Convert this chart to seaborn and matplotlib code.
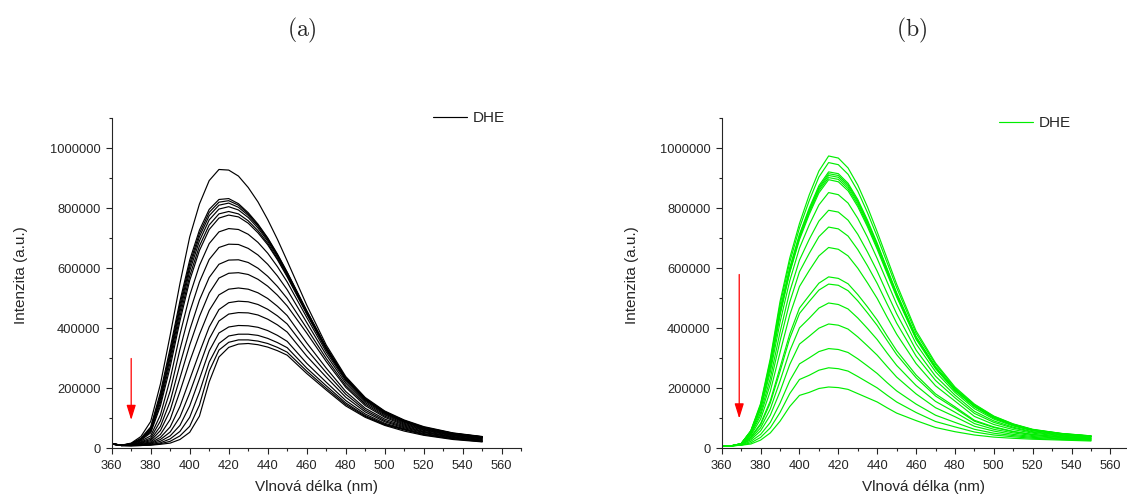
import matplotlib
matplotlib.use("Agg")
import pandas as pd
import matplotlib.pyplot as plt
import seaborn as sns
from matplotlib.lines import Line2D
from matplotlib.ticker import MultipleLocator, FuncFormatter

# ------------------------------------------------------------
# data (intensity in thousands of a.u.)
# ------------------------------------------------------------
wavelength = [360, 365, 370, 375, 380, 385, 390, 395, 400, 405, 410, 415, 420,
              425, 430, 435, 440, 445, 450, 460, 470, 480, 490, 500, 510, 520,
              535, 550]

# panel (a): black spectra, top to bottom
spectra_a = [
    [16, 11, 18, 40, 90, 215, 378, 550, 705, 815, 893, 930, 928, 908, 870, 822, 763, 697, 625, 478, 345, 240, 170, 125, 95, 73, 52, 40],
    [16, 11, 16, 34, 72, 187, 335, 492, 628, 728, 797, 830, 833, 816, 786, 748, 702, 648, 588, 460, 338, 236, 167, 123, 93, 71, 51, 39],
    [16, 11, 16, 33, 68, 178, 323, 480, 616, 717, 787, 821, 826, 811, 782, 745, 700, 646, 586, 458, 336, 235, 166, 122, 92, 70, 50, 39],
    [16, 11, 15, 32, 64, 170, 312, 468, 605, 706, 776, 811, 818, 804, 777, 741, 696, 643, 584, 456, 335, 234, 165, 121, 92, 70, 50, 38],
    [16, 11, 15, 30, 60, 162, 302, 455, 592, 692, 762, 798, 806, 795, 770, 735, 691, 639, 580, 454, 333, 233, 164, 120, 91, 69, 49, 38],
    [16, 11, 15, 29, 56, 152, 288, 440, 575, 675, 745, 782, 790, 782, 759, 726, 684, 633, 576, 451, 331, 231, 163, 119, 90, 69, 49, 38],
    [16, 11, 14, 28, 52, 142, 272, 425, 560, 660, 730, 768, 778, 772, 751, 719, 679, 629, 572, 448, 329, 230, 162, 118, 89, 68, 48, 37],
    [16, 11, 14, 25, 42, 112, 232, 380, 510, 610, 683, 722, 733, 730, 714, 687, 651, 606, 555, 437, 322, 225, 158, 115, 87, 66, 47, 36],
    [16, 11, 13, 22, 35, 92, 192, 330, 455, 555, 630, 670, 681, 680, 667, 645, 614, 575, 529, 420, 312, 218, 153, 112, 84, 64, 45, 35],
    [16, 10, 12, 20, 30, 74, 157, 280, 395, 495, 570, 614, 628, 629, 620, 601, 574, 540, 500, 401, 300, 210, 148, 108, 81, 62, 44, 33],
    [15, 10, 12, 18, 26, 60, 127, 235, 345, 440, 518, 568, 584, 586, 580, 564, 541, 511, 475, 385, 290, 204, 143, 104, 78, 60, 42, 32],
    [15, 10, 11, 16, 22, 47, 97, 190, 290, 380, 460, 512, 531, 535, 531, 519, 500, 474, 443, 352, 268, 190, 134, 98, 75, 57, 40, 30],
    [15, 10, 11, 14, 19, 37, 72, 140, 230, 320, 405, 463, 486, 491, 489, 480, 464, 442, 415, 330, 253, 181, 128, 93, 72, 55, 38, 28],
    [15, 10, 10, 13, 17, 30, 55, 105, 185, 275, 365, 425, 448, 453, 452, 445, 431, 412, 388, 308, 238, 171, 122, 89, 69, 53, 37, 27],
    [15, 10, 10, 12, 15, 24, 42, 77, 142, 232, 325, 385, 405, 410, 409, 404, 393, 377, 357, 284, 221, 160, 115, 84, 66, 50, 35, 25],
    [15, 10, 10, 11, 13, 19, 32, 57, 104, 188, 288, 350, 375, 381, 381, 377, 367, 353, 336, 268, 209, 152, 110, 81, 64, 48, 33, 24],
    [15, 10, 9, 10, 12, 16, 24, 42, 74, 145, 258, 328, 354, 362, 362, 358, 350, 337, 321, 258, 201, 147, 107, 79, 62, 46, 32, 23],
    [15, 10, 9, 10, 11, 14, 18, 30, 54, 108, 222, 305, 337, 348, 350, 346, 338, 326, 311, 250, 195, 142, 104, 77, 58, 44, 30, 22],
]

# panel (b): green spectra, top to bottom
spectra_b = [
    [9, 9, 16, 60, 150, 300, 490, 635, 750, 845, 925, 975, 968, 935, 878, 805, 722, 635, 548, 392, 285, 205, 148, 108, 82, 64, 50, 42],
    [9, 9, 16, 59, 146, 292, 478, 621, 735, 826, 905, 953, 946, 914, 858, 786, 706, 621, 536, 384, 280, 201, 146, 107, 81, 63, 50, 42],
    [9, 9, 16, 57, 141, 281, 461, 602, 714, 801, 876, 922, 916, 884, 830, 761, 684, 601, 519, 373, 272, 197, 143, 104, 80, 62, 49, 41],
    [9, 9, 16, 57, 140, 279, 458, 598, 710, 796, 870, 916, 910, 879, 825, 756, 680, 598, 516, 371, 271, 196, 142, 104, 79, 62, 49, 41],
    [9, 9, 16, 56, 139, 277, 455, 594, 706, 791, 865, 910, 904, 873, 820, 751, 675, 594, 513, 369, 270, 195, 141, 103, 79, 62, 48, 41],
    [9, 9, 16, 56, 138, 274, 450, 590, 702, 786, 859, 903, 897, 866, 813, 745, 670, 590, 509, 367, 268, 194, 140, 102, 78, 61, 48, 41],
    [9, 9, 16, 56, 136, 271, 445, 586, 696, 780, 852, 896, 889, 859, 806, 739, 664, 584, 505, 364, 266, 193, 139, 102, 78, 61, 48, 40],
    [9, 9, 15, 54, 129, 255, 421, 559, 668, 745, 812, 853, 846, 818, 767, 704, 633, 557, 481, 349, 256, 187, 133, 98, 75, 59, 47, 39],
    [9, 9, 14, 51, 119, 234, 388, 523, 628, 697, 758, 794, 788, 761, 714, 655, 591, 519, 449, 328, 241, 178, 124, 92, 71, 56, 45, 38],
    [9, 9, 14, 48, 110, 215, 358, 488, 589, 650, 706, 738, 732, 708, 663, 609, 550, 483, 418, 308, 227, 169, 117, 87, 68, 54, 43, 37],
    [9, 9, 13, 44, 98, 191, 320, 445, 540, 593, 642, 670, 664, 642, 601, 552, 500, 439, 381, 283, 209, 158, 107, 80, 63, 51, 41, 35],
    [9, 9, 13, 39, 83, 159, 270, 382, 468, 510, 551, 572, 567, 549, 513, 472, 428, 376, 326, 245, 182, 139, 94, 72, 57, 47, 39, 33],
    [9, 9, 12, 37, 79, 152, 257, 367, 450, 490, 528, 548, 544, 526, 492, 452, 410, 361, 313, 236, 175, 134, 91, 70, 56, 46, 38, 33],
    [9, 9, 12, 33, 69, 132, 225, 325, 402, 434, 468, 485, 480, 465, 435, 400, 363, 319, 277, 210, 157, 121, 83, 64, 52, 43, 36, 31],
    [9, 9, 12, 29, 59, 111, 190, 280, 348, 374, 401, 415, 411, 398, 372, 342, 311, 274, 238, 182, 136, 106, 74, 58, 47, 40, 34, 30],
    [9, 9, 11, 24, 47, 87, 151, 226, 282, 302, 323, 333, 330, 320, 299, 275, 250, 220, 192, 148, 111, 87, 64, 51, 43, 37, 32, 28],
    [9, 9, 11, 19, 37, 69, 120, 183, 230, 244, 261, 269, 266, 258, 240, 221, 202, 178, 155, 120, 90, 72, 55, 45, 39, 34, 30, 27],
    [9, 9, 11, 15, 28, 52, 91, 140, 177, 187, 200, 205, 203, 197, 183, 169, 155, 136, 118, 93, 70, 56, 45, 38, 34, 31, 28, 25],
]

# red arrows: (wavelength, start intensity, end intensity)
arrow_a = (370, 300000, 95000)
arrow_b = (369, 580000, 100000)

panel_titles = ["(a)", "(b)"]
legend_label = "DHE"
xlabel = "Vlnová délka (nm)"
ylabel = "Intenzita (a.u.)"


def to_long(spectra):
    rows = []
    for i, curve in enumerate(spectra):
        for wl, val in zip(wavelength, curve):
            rows.append((i, wl, val * 1000))
    return pd.DataFrame(rows, columns=["curve", "wavelength", "intensity"])


sns.set_style("ticks")
plt.rcParams["font.family"] = ["Liberation Sans", "DejaVu Sans"]
plt.rcParams["mathtext.fontset"] = "cm"

fig = plt.figure(figsize=(11.27, 4.98), dpi=100)
ax_a = fig.add_axes([0.0991, 0.0994, 0.3634, 0.6627])
ax_b = fig.add_axes([0.6404, 0.0994, 0.3587, 0.6627])

panels = [
    (ax_a, spectra_a, "black", arrow_a, (570, 0.785, 1.0)),
    (ax_b, spectra_b, "#00ee00", arrow_b, (568, 0.686, 0.986)),
]

for ax, spectra, color, arrow, (xmax, lx, ly) in panels:
    sns.lineplot(data=to_long(spectra), x="wavelength", y="intensity",
                 units="curve", estimator=None, color=color, lw=0.85,
                 ax=ax, legend=False)

    ax.set_xlim(360, xmax)
    ax.set_ylim(0, 1100000)
    ax.xaxis.set_major_locator(MultipleLocator(20))
    ax.xaxis.set_minor_locator(MultipleLocator(10))
    ax.yaxis.set_major_locator(MultipleLocator(200000))
    ax.yaxis.set_minor_locator(MultipleLocator(100000))
    ax.yaxis.set_major_formatter(FuncFormatter(lambda v, p: f"{v:.0f}"))
    ax.tick_params(which="major", direction="out", length=4, width=0.8,
                   labelsize=9.3, pad=4)
    ax.tick_params(which="minor", direction="out", length=2.4, width=0.8)
    sns.despine(ax=ax)
    for side in ("left", "bottom"):
        ax.spines[side].set_linewidth(0.8)

    ax.set_xlabel(xlabel, fontsize=11)
    ax.set_ylabel(ylabel, fontsize=11)
    ax.xaxis.set_label_coords(0.5, -0.095)
    ax.yaxis.set_label_coords(-0.205, 0.526)

    wl, y0, y1 = arrow
    ax.annotate("", xy=(wl, y1), xytext=(wl, y0),
                arrowprops=dict(arrowstyle="-|>,head_length=0.9,head_width=0.28",
                                color="red", lw=0.9, shrinkA=0, shrinkB=0,
                                mutation_scale=10))

    handle = Line2D([], [], color=color, lw=0.85)
    ax.legend([handle], [legend_label], loc="center left",
              bbox_to_anchor=(lx, ly), frameon=False, fontsize=11,
              borderaxespad=0, borderpad=0, handlelength=2.2,
              handletextpad=0.4)

for title, xc in zip(panel_titles, [302, 912]):
    fig.text(xc / 1127, 1 - 30 / 498, r"$\mathrm{" + title + "}$",
             ha="center", va="center", fontsize=17)

fig.savefig("out.png", dpi=100)
